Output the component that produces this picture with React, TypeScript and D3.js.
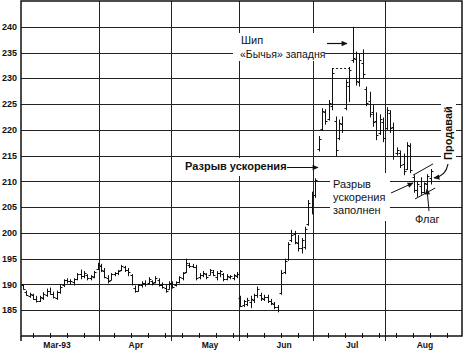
import React from "react";
import * as d3 from "d3";

// Daily OHLC bars, Mar–Aug 1993 (trading-day index 0..120)
const highs = [
  190.0, 188.8, 188.4, 188.2, 187.8, 187.8, 188.5, 189.2, 189.4, 188.6,
  188.8, 190.0, 191.0, 191.2, 191.0, 191.2, 192.2, 192.9, 192.6, 192.0,
  191.8, 192.6, 194.2, 194.0, 193.2, 191.8, 192.2, 192.4, 192.8, 193.8,
  193.6, 193.2, 192.0, 189.8, 190.0, 190.6, 190.8, 191.4, 190.8, 191.6,
  191.2, 190.4, 190.0, 190.6, 190.6, 190.6, 191.6, 192.4, 195.0, 194.2,
  194.0, 193.8, 192.2, 192.6, 192.2, 193.0, 192.8, 192.6, 192.8, 192.2,
  192.0, 191.8, 192.0, 192.4, 187.8, 187.0, 187.4, 187.8, 188.2, 189.6,
  188.4, 188.0, 188.0, 187.2, 186.6, 186.0, 192.8, 195.0, 198.2, 200.6,
  200.4, 199.6, 199.0, 201.2, 206.4, 208.0, 210.6, 218.8, 224.2, 224.0,
  225.8, 232.0, 222.6, 222.0, 222.6, 229.8, 232.2, 240.0, 235.2, 234.8,
  235.6, 228.4, 227.4, 224.8, 223.4, 223.0, 222.4, 224.4, 223.8, 221.4,
  216.6, 216.0, 215.4, 217.6, 217.4, 211.2, 210.0, 210.8, 209.8, 211.4,
  212.4,
];
const lows = [
  189.0, 187.8, 187.4, 187.0, 186.5, 186.6, 187.0, 187.6, 188.0, 187.3,
  187.0, 188.2, 189.5, 190.2, 190.0, 189.8, 190.8, 191.0, 191.2, 190.8,
  190.8, 191.2, 192.8, 192.4, 191.2, 190.2, 190.8, 191.6, 191.8, 192.6,
  192.4, 191.6, 189.8, 188.4, 188.6, 189.4, 189.6, 190.0, 189.8, 190.2,
  189.6, 189.2, 188.4, 189.0, 189.2, 189.6, 190.2, 190.8, 192.2, 193.2,
  193.2, 190.8, 191.0, 191.4, 191.0, 191.8, 191.6, 190.8, 191.4, 190.6,
  190.8, 191.0, 190.8, 191.2, 185.6, 185.6, 185.8, 185.4, 186.4, 187.4,
  186.8, 186.8, 186.4, 186.0, 185.2, 184.6, 188.0, 192.0, 194.6, 198.2,
  197.8, 196.4, 196.0, 196.8, 201.4, 203.6, 206.8, 215.8, 219.8, 221.0,
  221.8, 223.8, 214.8, 218.0, 219.4, 223.8, 225.4, 233.0, 228.6, 228.4,
  230.0, 224.6, 222.4, 220.6, 218.0, 219.0, 217.6, 220.0, 219.4, 214.2,
  215.0, 212.6, 211.2, 212.2, 211.6, 207.8, 207.0, 207.4, 207.6, 208.4,
  209.4,
];
const opens = [
  189.8, 188.6, 187.8, 188.0, 187.2, 186.8, 187.4, 188.0, 188.8, 188.2,
  187.4, 188.6, 189.8, 190.8, 190.6, 190.4, 191.0, 192.0, 191.6, 191.8,
  191.2, 191.4, 193.0, 193.6, 192.6, 191.2, 190.8, 192.0, 192.2, 192.8,
  193.4, 192.8, 191.8, 189.4, 188.8, 189.8, 190.2, 190.2, 190.6, 190.4,
  190.8, 189.8, 189.4, 189.2, 190.0, 189.8, 190.4, 191.2, 192.4, 193.8,
  193.6, 193.4, 191.4, 191.8, 192.0, 191.8, 192.4, 191.4, 192.2, 192.0,
  191.0, 191.4, 191.2, 191.6, 187.4, 186.0, 186.2, 186.6, 187.0, 188.0,
  188.0, 187.2, 187.6, 186.8, 186.2, 185.6, 188.4, 192.4, 195.0, 198.6,
  199.8, 198.0, 197.0, 197.2, 201.8, 205.0, 207.4, 216.2, 220.2, 223.4,
  222.2, 224.6, 221.8, 218.4, 221.2, 224.2, 228.6, 233.6, 233.8, 229.2,
  233.0, 228.0, 225.6, 223.4, 221.8, 219.4, 221.6, 220.4, 223.2, 220.6,
  215.6, 215.6, 213.4, 212.4, 216.8, 210.8, 208.4, 209.2, 208.0, 209.4,
  210.6,
];
const closes = [
  189.2, 188.0, 188.2, 187.2, 186.8, 187.6, 188.2, 188.8, 188.2, 187.6,
  188.6, 189.6, 190.8, 190.6, 190.6, 191.0, 192.0, 191.6, 192.2, 191.2,
  191.6, 192.4, 193.8, 192.8, 191.4, 190.6, 192.0, 192.2, 192.6, 193.6,
  192.8, 192.4, 190.0, 188.8, 189.8, 190.2, 190.0, 191.0, 190.2, 191.2,
  189.8, 189.6, 188.8, 190.2, 189.6, 190.4, 191.4, 192.2, 194.2, 193.6,
  193.4, 191.2, 191.8, 192.2, 191.4, 192.8, 191.8, 192.2, 192.6, 191.0,
  191.6, 191.6, 191.8, 192.0, 185.8, 186.8, 187.0, 187.2, 188.0, 189.2,
  187.4, 187.6, 186.8, 186.4, 185.6, 185.0, 192.2, 194.6, 197.8, 199.6,
  198.2, 197.0, 198.6, 200.8, 205.8, 207.4, 210.2, 218.2, 223.6, 221.8,
  225.2, 231.0, 216.0, 221.4, 220.0, 229.2, 231.6, 234.0, 229.4, 233.6,
  230.8, 225.2, 223.0, 221.6, 219.0, 222.2, 218.4, 223.8, 220.4, 215.0,
  216.0, 213.2, 212.0, 217.0, 212.2, 208.4, 209.4, 208.0, 209.6, 211.0,
  212.0,
];

const yTicks = [185, 190, 195, 200, 205, 210, 215, 220, 225, 230, 235, 240];
const monthStarts = [23, 44, 64, 86, 107];
const monthLabels = ["Mar-93", "Apr", "May", "Jun", "Jul", "Aug"];
const monthLabelAt = [10.6, 33.8, 55.6, 77.4, 97.4, 118.8];
const weekTicks = [4, 9, 14, 19, 28, 33, 38, 43, 48, 53, 58, 63, 67, 72, 77, 82, 91, 96, 101, 106, 111, 116, 121, 126];

// pattern annotations (trading-day index, price)
const trapStart = 91.5;
const trapEnd = 96.5;
const trapLevel = 232.0;
const flagTop = [[115.3, 211.2], [121.2, 213.4]];
const flagBottom = [[115.9, 206.6], [121.8, 208.7]];

export default function App() {
  const W = 464, H = 356;
  const L = 21, R = 462, T = 1, B = 336;
  const x = d3.scaleLinear().domain([0, 129.7]).range([L, R]);
  const y = d3.scaleLinear().domain([180, 245]).range([B, T]);
  const px = (v: number) => Math.round(v) + 0.5;
  const sans = "'Liberation Sans', Arial, sans-serif";
  const ink = "#111";

  const bars = highs.map((h, i) => ({ h, l: lows[i], o: opens[i], c: closes[i], i }));
  const line = d3.line<number[]>().x((d) => x(d[0])).y((d) => y(d[1]));

  return (
    <svg width={W} height={H} style={{ position: "absolute", left: 0, top: 0, background: "#fff" }}>
      <defs>
        <marker id="ah" viewBox="0 0 10 10" refX="9" refY="5" markerWidth="7" markerHeight="6" orient="auto" markerUnits="userSpaceOnUse">
          <path d="M0,0.5 L10,5 L0,9.5 z" fill={ink} />
        </marker>
      </defs>
      <rect x={0} y={0} width={W} height={H} fill="#fff" />
      {/* horizontal grid */}
      {yTicks.map((t) => (
        <line key={"g" + t} x1={L} x2={R} y1={px(y(t))} y2={px(y(t))} stroke="#222" strokeWidth={1} />
      ))}
      {/* month verticals */}
      {monthStarts.map((m) => (
        <line key={"m" + m} x1={px(x(m))} x2={px(x(m))} y1={T} y2={B + 5} stroke="#222" strokeWidth={1} />
      ))}
      {/* weekly ticks */}
      {weekTicks.map((w) => (
        <line key={"w" + w} x1={px(x(w - 0.6))} x2={px(x(w - 0.6))} y1={B - 3} y2={B + 2} stroke={ink} strokeWidth={1} />
      ))}
      {/* frame */}
      <rect x={L} y={T} width={R - L} height={B - T} fill="none" stroke={ink} strokeWidth={1.5} />
      <line x1={L} x2={L} y1={B} y2={B + 5} stroke={ink} strokeWidth={1.5} />
      {/* y labels */}
      {yTicks.map((t) => (
        <text key={"yl" + t} x={17} y={y(t)} dy="0.35em" textAnchor="end" fontFamily={sans} fontWeight="bold" fontSize={9} fill={ink}>
          {t}
        </text>
      ))}
      {/* x labels */}
      {monthLabels.map((m, k) => (
        <text key={"xl" + m} x={x(monthLabelAt[k])} y={348} textAnchor="middle" fontFamily={sans} fontWeight="bold" fontSize={8.5} fill={ink}>
          {m}
        </text>
      ))}

      {/* white backgrounds of annotation texts */}
      <rect x={233} y={33} width={92} height={28} fill="#fff" />
      <rect x={183} y={158} width={102} height={18} fill="#fff" />
      <rect x={330} y={173} width={60} height={48} fill="#fff" />
      <rect x={413} y={212} width={30} height={13} fill="#fff" />
      <rect x={441} y={102} width={15} height={60} fill="#fff" />

      {/* OHLC bars */}
      {bars.map((b) => {
        const cx = px(x(b.i + 0.5));
        return (
          <g key={"b" + b.i} stroke={ink} strokeWidth={1}>
            <line x1={cx} x2={cx} y1={y(b.h)} y2={y(b.l)} />
            <line x1={cx - 2} x2={cx} y1={px(y(b.o))} y2={px(y(b.o))} />
            <line x1={cx} x2={cx + 2} y1={px(y(b.c))} y2={px(y(b.c))} />
          </g>
        );
      })}

      {/* bull trap dashed level */}
      <line x1={x(trapStart)} x2={x(trapEnd)} y1={px(y(trapLevel))} y2={px(y(trapLevel))} stroke={ink} strokeWidth={1} strokeDasharray="2,2" />

      {/* flag channel */}
      <path d={line(flagTop) || ""} stroke={ink} strokeWidth={1} fill="none" />
      <path d={line(flagBottom) || ""} stroke={ink} strokeWidth={1} fill="none" />

      {/* annotations */}
      <text x={241} y={44} fontFamily={sans} fontSize={11} fill={ink}>Шип</text>
      <text x={240} y={58} fontFamily={sans} fontSize={10.5} fill={ink}>«Бычья» западня</text>
      <line x1={327} x2={347} y1={43.5} y2={43.5} stroke={ink} strokeWidth={1.2} markerEnd="url(#ah)" />

      <text x={185} y={170} fontFamily={sans} fontSize={11} fontWeight="bold" fill={ink}>Разрыв ускорения</text>
      <line x1={287} x2={318} y1={167.5} y2={167.5} stroke={ink} strokeWidth={1} markerEnd="url(#ah)" />

      <text x={333} y={188} fontFamily={sans} fontSize={11} fill={ink}>Разрыв</text>
      <text x={333} y={201} fontFamily={sans} fontSize={11} fill={ink}>ускорения</text>
      <text x={333} y={214} fontFamily={sans} fontSize={11} fill={ink}>заполнен</text>
      <line x1={391} x2={413} y1={193} y2={183} stroke={ink} strokeWidth={1} markerEnd="url(#ah)" />

      <text x={415} y={223} fontFamily={sans} fontSize={11} fill={ink}>Флаг</text>
      <line x1={429} x2={427} y1={211} y2={189} stroke={ink} strokeWidth={1} markerEnd="url(#ah)" />

      <text transform="translate(452,160) rotate(-90)" fontFamily={sans} fontSize={11} fontWeight="bold" fill={ink}>Продавай</text>
      <path d="M448,164 Q446,176 434,178" stroke={ink} strokeWidth={1.2} fill="none" markerEnd="url(#ah)" />
    </svg>
  );
}
